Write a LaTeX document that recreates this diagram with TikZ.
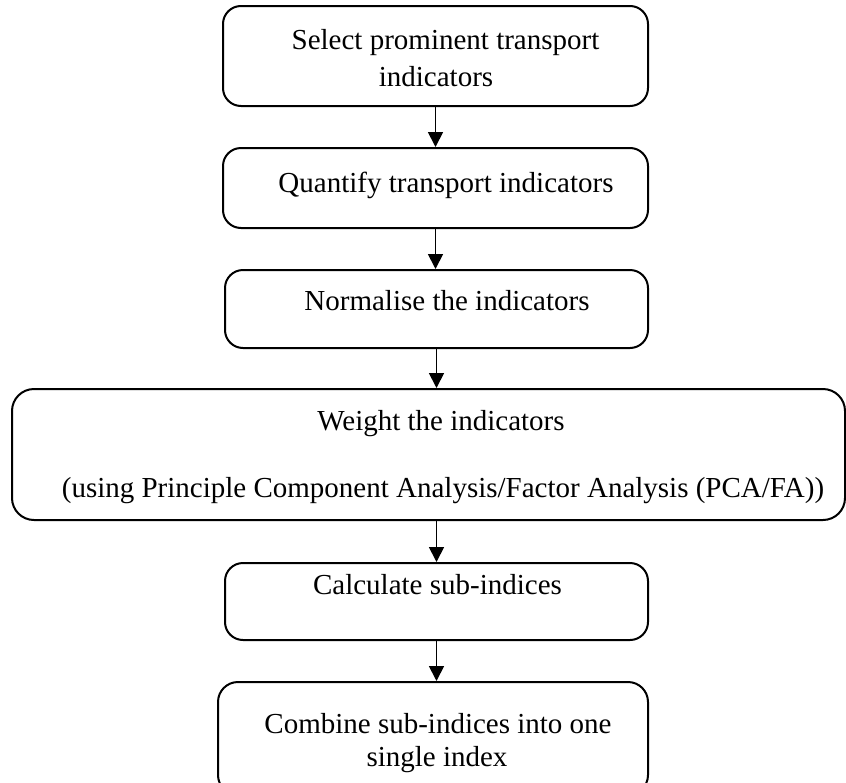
\documentclass[tikz,border=0pt]{standalone}
\usepackage{fontspec}
\setmainfont{Liberation Serif}
\usetikzlibrary{arrows.meta}
\begin{document}
\begin{tikzpicture}[x=1pt,y=-1pt,
  stepbox/.style={draw=black, line width=2pt, rounded corners=18pt, inner sep=0pt},
  label/.style={anchor=base, inner sep=0pt, font=\fontsize{29}{32}\selectfont},
  flow/.style={line width=1.8pt, -{Triangle[length=15pt,width=15pt]}}]
\useasboundingbox (0,0) rectangle (846,782);

% process boxes
\node[stepbox, minimum width=425pt, minimum height=100pt] (b1) at (435.5,56) {};
\node[stepbox, minimum width=425pt, minimum height=80pt]  (b2) at (435.5,188) {};
\node[stepbox, minimum width=423pt, minimum height=78pt]  (b3) at (436.5,309) {};
\node[stepbox, minimum width=833pt, minimum height=131pt, rounded corners=22pt] (b4) at (428.5,454.5) {};
\node[stepbox, minimum width=423pt, minimum height=77pt]  (b5) at (436.5,601.5) {};
\node[stepbox, minimum width=430pt, minimum height=113pt, rounded corners=20pt] (b6) at (433,738.5) {};

% box texts
\node[label] (t1a) at (445.5,49) {Select prominent transport};
\node[label] (t1b) at (436,86) {indicators};
\node[label] (t2)  at (446,192) {Quantify transport indicators};
\node[label] (t3)  at (447,310) {Normalise the indicators};
\node[label] (t4a) at (441,430) {Weight the indicators};
\node[label] (t4b) at (443,497) {(using Principle Component Analysis/Factor Analysis (PCA/FA))};
\node[label] (t5)  at (437.5,594) {Calculate sub-indices};
\node[label] (t6a) at (438,733) {Combine sub-indices into one};
\node[label] (t6b) at (437,766) {single index};

% connectors
\draw[flow] (b1.south) -- (b1.south |- b2.north);
\draw[flow] (b2.south) -- (b2.south |- b3.north);
\draw[flow] (b3.south) -- (b3.south |- b4.north);
\draw[flow] (b4.south -| b3.south) -- (b3.south |- b5.north);
\draw[flow] (b5.south) -- (b5.south |- b6.north);
\end{tikzpicture}
\end{document}
